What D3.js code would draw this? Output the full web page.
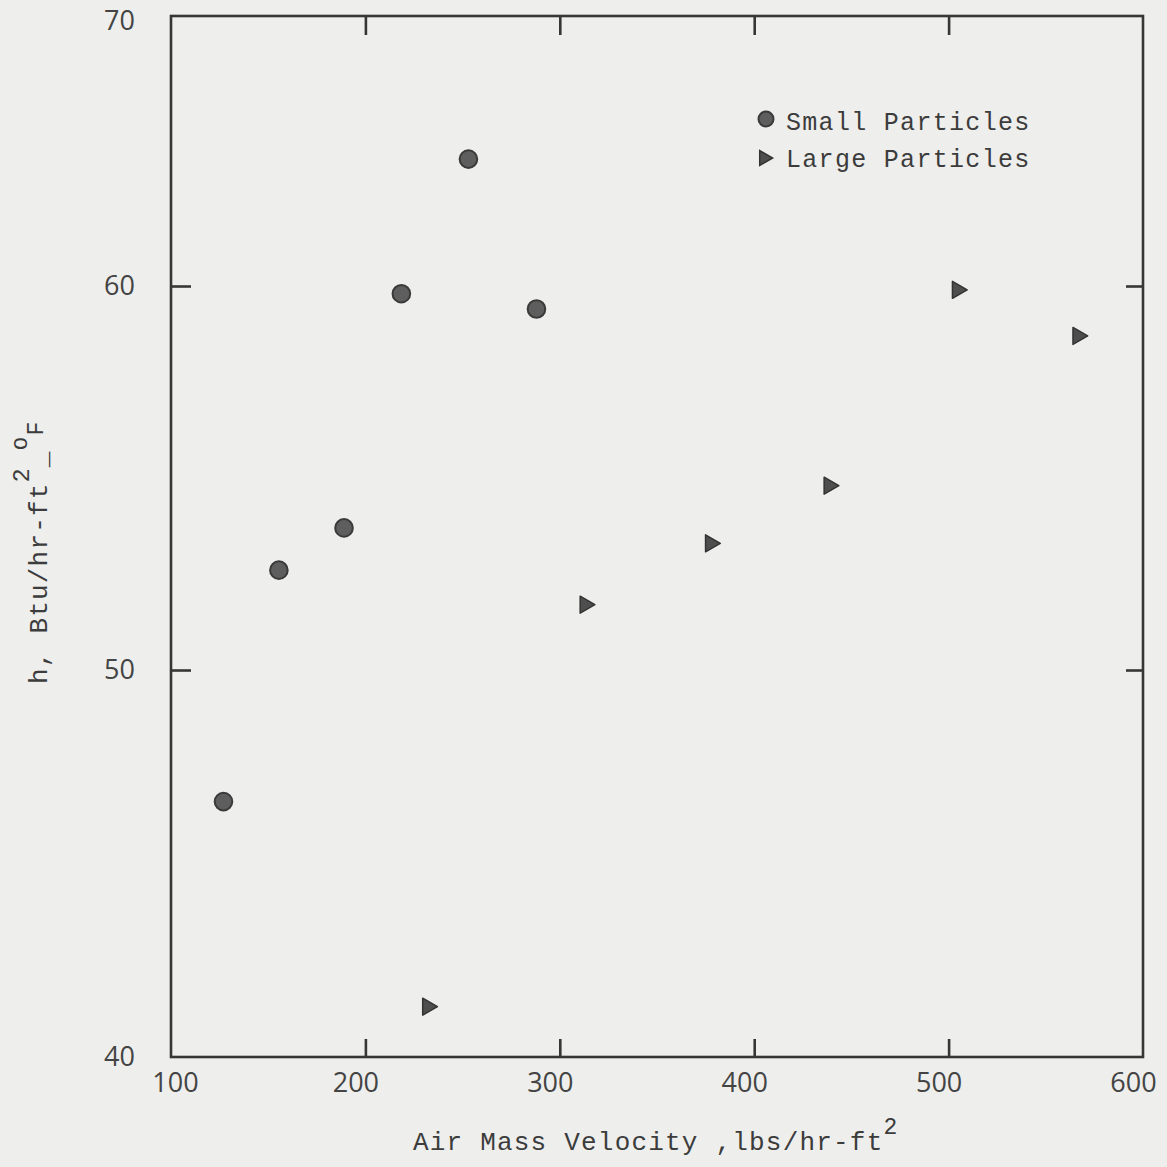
<!DOCTYPE html>
<html>
<head>
<meta charset="utf-8">
<script src="https://cdn.jsdelivr.net/npm/d3@7"></script>
<style>
  html, body { margin: 0; padding: 0; background: #eeeeec; }
  svg { display: block; }
</style>
</head>
<body>
<svg id="chart" width="1167" height="1167"></svg>
<script>
// ---- data ----
const smallX = [127, 155.5, 189, 218.5, 253, 288];
const smallY = [46.6, 52.6, 53.7, 59.8, 64.7, 59.4];
const largeX = [232, 313, 377.5, 438.5, 504.5, 566.5];
const largeY = [41.3, 51.7, 53.3, 54.8, 59.9, 58.7];
const xTicks = [100, 200, 300, 400, 500, 600];
const yTicks = [40, 50, 60, 70];
const legendLabels = ["Small Particles", "Large Particles"];

const svg = d3.select("#chart");
const ink = "#363636";
const L = 171, R = 1143, T = 16, B = 1057;

const x = d3.scaleLinear().domain([100, 600]).range([L, R]);
// the scanned axis is not uniform near the top; follow its tick positions
const y = d3.scaleLinear().domain([40, 50, 60, 70]).range([B, 670, 286, T]);

// frame
svg.append("rect").attr("x", L).attr("y", T).attr("width", R - L).attr("height", B - T)
  .attr("fill", "none").attr("stroke", ink).attr("stroke-width", 2.6);

function styleAxis(g) {
  g.select(".domain").remove();
  g.selectAll(".tick line").attr("stroke", ink).attr("stroke-width", 2.6);
  g.selectAll(".tick text").attr("fill", "#444").attr("font-family", "'Open Sans', sans-serif")
    .attr("font-size", 27);
}

// bottom axis with labels
const gb = svg.append("g").attr("transform", `translate(0,${B})`)
  .call(d3.axisBottom(x).tickValues(xTicks).tickFormat(d3.format("d")).tickSizeInner(-18).tickSizeOuter(0).tickPadding(16));
styleAxis(gb);
gb.selectAll(".tick text").attr("dx", d => d === 100 ? 4 : -10);
gb.selectAll(".tick").filter(d => d === 100 || d === 600).select("line").remove();

// top axis, ticks only
const gt = svg.append("g").attr("transform", `translate(0,${T})`)
  .call(d3.axisTop(x).tickValues(xTicks.slice(1, -1)).tickFormat("").tickSizeInner(-19).tickSizeOuter(0));
styleAxis(gt);

// left axis with labels
const gl = svg.append("g").attr("transform", `translate(${L},0)`)
  .call(d3.axisLeft(y).tickValues(yTicks).tickFormat(d3.format("d")).tickSizeInner(-20).tickSizeOuter(0).tickPadding(36));
styleAxis(gl);
gl.selectAll(".tick").filter(d => d === 40 || d === 70).select("line").remove();
gl.selectAll(".tick text").attr("dy", d => d === 70 ? "0.5em" : "0.32em");

// right axis ticks only
const gr = svg.append("g").attr("transform", `translate(${R},0)`)
  .call(d3.axisRight(y).tickValues([50, 60]).tickFormat("").tickSizeInner(-17).tickSizeOuter(0));
styleAxis(gr);

// points
const tri = d3.symbol().type(d3.symbolTriangle).size(125);
svg.append("g").selectAll("circle").data(smallX.map((v, i) => [v, smallY[i]])).join("circle")
  .attr("cx", d => x(d[0])).attr("cy", d => y(d[1])).attr("r", 8.8)
  .attr("fill", "#5e5e5e").attr("stroke", "#3a3a3a").attr("stroke-width", 2);
svg.append("g").selectAll("path").data(largeX.map((v, i) => [v, largeY[i]])).join("path")
  .attr("d", tri).attr("transform", d => `translate(${x(d[0])},${y(d[1])}) rotate(90)`)
  .attr("fill", "#4e4e4e").attr("stroke", "#333").attr("stroke-width", 1.5).attr("stroke-linejoin", "round");

// legend
const mono = "'Liberation Mono', 'Courier New', monospace";
const lg = svg.append("g");
lg.append("circle").attr("cx", 766).attr("cy", 119).attr("r", 7.5)
  .attr("fill", "#5e5e5e").attr("stroke", "#3a3a3a").attr("stroke-width", 2);
lg.append("path").attr("d", d3.symbol().type(d3.symbolTriangle).size(95))
  .attr("transform", "translate(764,158) rotate(90)")
  .attr("fill", "#4e4e4e").attr("stroke", "#333").attr("stroke-width", 1.5);
lg.selectAll("text").data(legendLabels).join("text")
  .attr("x", 786).attr("y", (d, i) => 130 + i * 37)
  .attr("font-family", mono).attr("font-size", 25).attr("letter-spacing", 1.3)
  .attr("fill", "#3c3c3c").text(d => d);

// x title
const xt = svg.append("text").attr("x", 413).attr("y", 1150)
  .attr("font-family", mono).attr("font-size", 26).attr("letter-spacing", 1.2).attr("fill", "#3c3c3c");
xt.append("tspan").text("Air Mass Velocity ,lbs/hr-ft");
xt.append("tspan").attr("dy", -16).attr("font-size", 23).text("2");

// y title
const yt = svg.append("text").attr("transform", "translate(47,684) rotate(-90)")
  .attr("font-family", mono).attr("font-size", 26).attr("letter-spacing", 1.2).attr("fill", "#3c3c3c");
yt.append("tspan").text("h, Btu/hr-ft");
yt.append("tspan").attr("dy", -18).attr("font-size", 23).text("2");
yt.append("tspan").attr("dy", 18).text("_");
yt.append("tspan").attr("dy", -20).attr("font-size", 23).text("o");
yt.append("tspan").attr("dy", 16).attr("font-size", 23).text("F");
</script>
</body>
</html>
